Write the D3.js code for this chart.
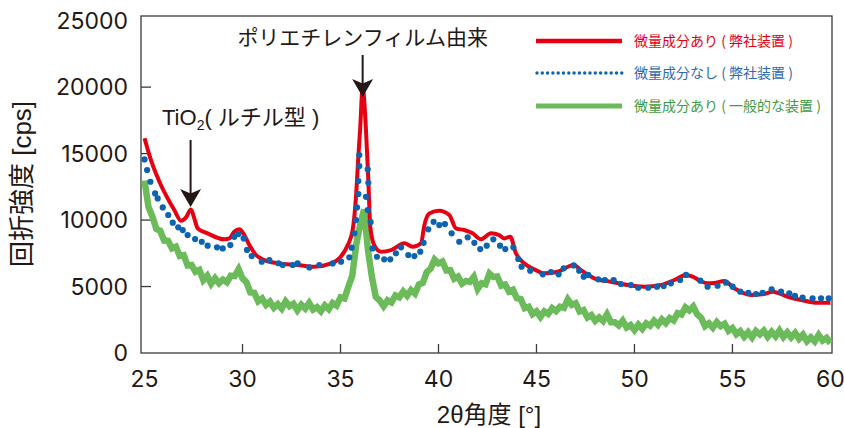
<!DOCTYPE html>
<html>
<head>
<meta charset="utf-8">
<script src="https://cdn.jsdelivr.net/npm/d3@7"></script>
<style>
  body { margin: 0; background: #fff; }
  svg { display: block; }
  .num { font-family: Inter, "Liberation Sans", Arial, sans-serif; font-size: 23px; fill: #231815; }
  .lbl { font-family: "Liberation Sans", "Noto Sans CJK JP", sans-serif; fill: #231815; }
  .legend-text { font-family: "Noto Sans CJK JP", sans-serif; font-size: 14px; }
</style>
</head>
<body>
<div class="container"></div>
<script>
const WIDTH = 844;
const HEIGHT = 428;
const LEFT = 141, RIGHT = 832, TOP = 16, BOTTOM = 353;

var xTicks = [25, 30, 35, 40, 45, 50, 55, 60];
var yTicks = [0, 5000, 10000, 15000, 20000, 25000];

var seriesNames = [
  '微量成分あり ( 弊社装置 )',
  '微量成分なし ( 弊社装置 )',
  '微量成分あり ( 一般的な装置 )'
];

// red: smooth curve [2θ, cps]
var redData = [
  [25.0, 16150], [25.33, 14500], [25.76, 12880], [26.18, 11630], [26.52, 10750],
  [26.86, 9950], [27.12, 10200], [27.37, 10800], [27.54, 10130], [27.71, 9380],
  [28.22, 9000], [29.07, 8550], [29.33, 8620], [29.58, 9120], [29.84, 9300],
  [30.09, 8870], [30.35, 8120], [30.69, 7370], [31.11, 6990], [31.80, 6750],
  [32.81, 6620], [33.66, 6490], [34.52, 6740], [34.94, 7120], [35.37, 8120],
  [35.62, 9250], [35.79, 11750], [35.91, 14760], [36.0, 16770], [36.13, 19950],
  [36.30, 16770], [36.42, 13000], [36.52, 9500], [36.72, 8120], [37.07, 7620],
  [37.58, 7740], [38.26, 8250], [38.68, 7990], [39.11, 8250], [39.28, 9620],
  [39.53, 10500], [40.04, 10700], [40.55, 10380], [40.89, 9380], [41.31, 9250],
  [41.74, 9000], [42.17, 8550], [42.68, 9000], [43.10, 8870], [43.36, 8620],
  [43.66, 8750], [43.95, 7500], [44.37, 6750], [44.89, 6290], [45.40, 5990],
  [46.08, 6110], [46.90, 6620], [47.27, 6240], [47.95, 5620], [48.80, 5360],
  [49.65, 5110], [50.50, 4990], [51.35, 5110], [52.03, 5490], [52.63, 5870],
  [52.97, 5740], [53.39, 5400], [53.73, 5240], [54.16, 5290], [54.58, 5410],
  [55.09, 4870], [55.94, 4360], [56.62, 4440], [57.05, 4610], [57.82, 4230],
  [58.49, 3990], [59.35, 3780], [60.0, 3780]
];

// blue: dots [2θ, cps]
var blueData = [
  [25.0, 14560], [25.13, 13760], [25.30, 12880], [25.54, 12000], [25.67, 11630],
  [25.93, 10950], [26.21, 10380], [26.44, 9800], [26.72, 9450], [26.95, 9250],
  [27.20, 8870], [27.58, 8570], [27.92, 8370], [28.22, 8070], [28.70, 7950],
  [28.99, 7870], [29.38, 8120], [29.58, 8740], [29.79, 8950], [30.06, 8620],
  [30.23, 7750], [30.47, 7290], [30.98, 6870], [31.37, 6990], [31.83, 6750],
  [32.05, 6620], [32.56, 6620], [32.81, 6740], [33.41, 6440], [33.92, 6620],
  [34.60, 6740], [35.03, 6870], [35.45, 7200], [35.57, 7920], [35.71, 9000],
  [35.79, 10000], [35.84, 10950], [35.91, 11960], [35.91, 12930], [35.96, 14060],
  [35.96, 14890], [36.39, 13810], [36.42, 12800], [36.30, 11750], [36.39, 10750],
  [36.54, 9850], [36.64, 7870], [36.86, 7240], [37.23, 7050], [37.54, 7050],
  [37.83, 7500], [38.09, 7950], [38.46, 7370], [38.77, 7290], [39.07, 7620],
  [39.24, 8290], [39.48, 9300], [39.75, 9870], [40.04, 9620], [40.33, 9700],
  [40.67, 9000], [41.06, 8370], [41.49, 8700], [41.83, 8290], [42.13, 7820],
  [42.46, 8070], [42.80, 8550], [43.14, 8070], [43.41, 7820], [43.82, 7950],
  [44.07, 7070], [44.24, 6490], [44.68, 6190], [45.32, 5920], [45.74, 6090],
  [46.13, 5920], [46.39, 6370], [46.90, 6590], [47.18, 6190], [47.41, 5740],
  [47.64, 5870], [48.15, 5540], [48.49, 5490], [48.94, 5490], [49.31, 5190],
  [49.82, 5110], [50.19, 4910], [50.70, 4910], [51.15, 4990], [51.49, 5040],
  [51.86, 5240], [52.33, 5490], [52.63, 5870], [53.36, 5440], [53.73, 4990],
  [54.24, 5060], [54.67, 5290], [55.01, 4990], [55.40, 4610], [55.81, 4530],
  [56.20, 4440], [56.54, 4530], [57.00, 4790], [57.48, 4610], [57.90, 4490],
  [58.19, 4290], [58.58, 4160], [59.09, 4110], [59.52, 4110], [59.91, 4110]
];

// green: noisy scan, one value every 0.2° from 25°
var greenStart = 25, greenStep = 0.2;
var greenY = [
  12980, 10990, 10270, 9330, 9200, 8460, 8440, 7870, 7990, 7300,
  7360, 6580, 6620, 6110, 6250, 5480, 5810, 5210, 5630, 5250,
  5520, 5320, 5810, 5780, 6300, 5620, 5320, 4550, 4530, 3890,
  4100, 3620, 3860, 3400, 3680, 3340, 3890, 3520, 3700, 3210,
  3630, 3350, 3760, 3270, 3450, 3140, 3580, 3300, 3760, 3570,
  4180, 4100, 4980, 5820, 8140, 9620, 10800, 7760, 5740, 4220,
  3950, 3520, 3960, 3800, 4330, 4190, 4630, 4300, 4730, 4470,
  5150, 5280, 6080, 6350, 7030, 6740, 6880, 6220, 6230, 5590,
  5750, 5220, 5420, 5350, 5730, 4820, 5250, 5170, 5980, 5720,
  5750, 5070, 5150, 4620, 4750, 4120, 4050, 3370, 3480, 2920,
  3130, 2720, 3130, 2950, 3380, 3150, 3480, 3400, 4030, 3620,
  3750, 3120, 3230, 2670, 2850, 2420, 2680, 2400, 2910, 2320,
  2320, 2070, 2430, 1920, 2100, 1720, 2130, 1820, 2230, 2050,
  2430, 2120, 2530, 2250, 2630, 2450, 3000, 2900, 3430, 3200,
  3500, 2920, 2650, 2020, 2230, 1900, 2330, 2020, 2200, 1670,
  1880, 1420, 1650, 1220, 1560, 1170, 1660, 1400, 1680, 1220,
  1590, 1250, 1690, 1210, 1550, 1170, 1510, 1070, 1380, 890,
  1180, 870, 1360, 940, 1130, 730
];

var RED = '#e60012', BLUE = '#0b63b1', GREEN = '#6cbb5a';
var textColors = ['#e60012', '#2f69b2', '#3f9b45'];

var svg = d3.select('.container').append('svg')
  .attr('width', WIDTH)
  .attr('height', HEIGHT);

var x = d3.scaleLinear().domain([24.82, 60.08]).range([LEFT, RIGHT]);
var y = d3.scaleLinear().domain([0, 25350]).range([BOTTOM, TOP]);

// frame
svg.append('rect')
  .attr('x', LEFT).attr('y', TOP)
  .attr('width', RIGHT - LEFT).attr('height', BOTTOM - TOP)
  .attr('fill', 'none').attr('stroke', '#3e3a39').attr('stroke-width', 1.3);

// ticks (inward)
svg.append('g').selectAll('line')
  .data(xTicks.filter(function(d){ return d > 25 && d < 60; }))
  .enter().append('line')
  .attr('x1', function(d){ return x(d); }).attr('x2', function(d){ return x(d); })
  .attr('y1', BOTTOM).attr('y2', BOTTOM - 9)
  .attr('stroke', '#3e3a39').attr('stroke-width', 1.3);

svg.append('g').selectAll('line')
  .data(yTicks.filter(function(d){ return d > 0 && d < 25000; }))
  .enter().append('line')
  .attr('x1', LEFT).attr('x2', LEFT + 10)
  .attr('y1', function(d){ return y(d); }).attr('y2', function(d){ return y(d); })
  .attr('stroke', '#3e3a39').attr('stroke-width', 1.3);

svg.append('g').selectAll('text')
  .data(xTicks)
  .enter().append('text')
  .classed('num', true)
  .attr('x', function(d){ return x(d); })
  .attr('y', 387)
  .attr('text-anchor', 'middle')
  .text(function(d){ return d; });

svg.append('g').selectAll('text')
  .data(yTicks)
  .enter().append('text')
  .classed('num', true)
  .attr('x', 128)
  .attr('y', function(d){ return y(d); })
  .attr('dy', '0.36em')
  .attr('text-anchor', 'end')
  .text(function(d){ return d; });

// axis titles
svg.append('text')
  .classed('lbl', true)
  .attr('transform', 'translate(31,184) rotate(-90)')
  .attr('text-anchor', 'middle')
  .style('font-size', '26px')
  .text('回折強度 [cps]');

svg.append('text')
  .classed('lbl', true)
  .attr('x', 489).attr('y', 423)
  .attr('text-anchor', 'middle')
  .style('font-size', '24px')
  .text('2θ角度 [°]');

// series
var green = greenY.map(function(v, i){ return [greenStart + i * greenStep, v]; });

var line = d3.line()
  .x(function(d){ return x(d[0]); })
  .y(function(d){ return y(d[1]); });

svg.append('path')
  .attr('d', line.curve(d3.curveLinear)(green))
  .attr('fill', 'none').attr('stroke', GREEN).attr('stroke-width', 6.5)
  .attr('stroke-linejoin', 'miter');

svg.append('path')
  .attr('d', line.curve(d3.curveMonotoneX)(redData))
  .attr('fill', 'none').attr('stroke', RED).attr('stroke-width', 4)
  .attr('stroke-linejoin', 'round');

svg.append('g').selectAll('circle')
  .data(blueData)
  .enter().append('circle')
  .attr('cx', function(d){ return x(d[0]); })
  .attr('cy', function(d){ return y(d[1]); })
  .attr('r', 3.1)
  .attr('fill', BLUE);

// legend
var legend = svg.append('g');
var legendY = [41, 73, 106];
legend.append('line')
  .attr('x1', 536).attr('x2', 622).attr('y1', legendY[0]).attr('y2', legendY[0])
  .attr('stroke', RED).attr('stroke-width', 4.5);
legend.append('line')
  .attr('x1', 537).attr('x2', 622).attr('y1', legendY[1]).attr('y2', legendY[1])
  .attr('stroke', BLUE).attr('stroke-width', 3.4)
  .attr('stroke-linecap', 'round').attr('stroke-dasharray', '0 5.3');
legend.append('line')
  .attr('x1', 536).attr('x2', 622).attr('y1', legendY[2]).attr('y2', legendY[2])
  .attr('stroke', GREEN).attr('stroke-width', 5);
legend.selectAll('text')
  .data(seriesNames)
  .enter().append('text')
  .classed('legend-text', true)
  .attr('x', 634)
  .attr('y', function(d, i){ return legendY[i]; })
  .attr('dy', '0.35em')
  .attr('fill', function(d, i){ return textColors[i]; })
  .text(function(d){ return d; });

// annotations
var drawArrow = function (cx, yTop, yTip) {
  svg.append('line')
    .attr('x1', cx).attr('x2', cx).attr('y1', yTop).attr('y2', yTip - 10)
    .attr('stroke', '#231815').attr('stroke-width', 2);
  svg.append('path')
    .attr('d', 'M' + cx + ',' + yTip + 'L' + (cx - 10.5) + ',' + (yTip - 18) +
      'L' + cx + ',' + (yTip - 13.5) + 'L' + (cx + 10.5) + ',' + (yTip - 18) + 'Z')
    .attr('fill', '#231815');
};

drawArrow(x(36.13), 55, 97);
drawArrow(x(27.35), 140, 207);

svg.append('text')
  .classed('lbl', true)
  .attr('x', x(36.13)).attr('y', 37)
  .attr('dy', '0.36em')
  .attr('text-anchor', 'middle')
  .style('font-size', '21px')
  .text('ポリエチレンフィルム由来');

var tio = svg.append('text')
  .classed('lbl', true)
  .attr('x', 162).attr('y', 117)
  .attr('dy', '0.36em')
  .style('font-size', '22px');
tio.append('tspan').text('TiO');
tio.append('tspan').attr('dy', 5).style('font-size', '14px').text('2');
tio.append('tspan').attr('dy', -5).text('( ルチル型 )');
</script>
</body>
</html>
